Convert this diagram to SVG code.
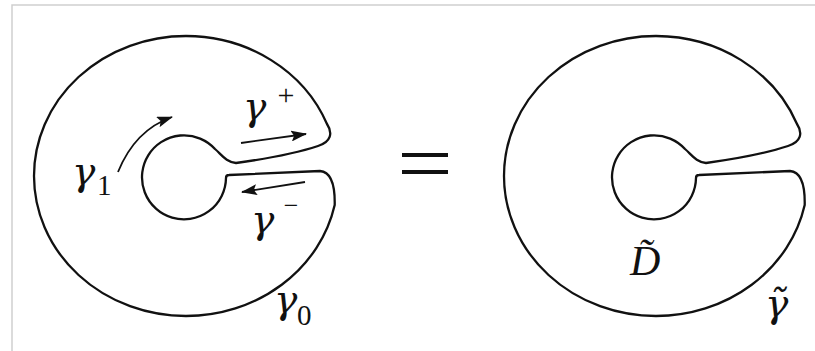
<svg xmlns="http://www.w3.org/2000/svg" width="815" height="351" viewBox="0 0 815 351">
<style>
.shape{fill:none;stroke:#111;stroke-width:2.3;stroke-linejoin:round}
.arr{fill:none;stroke:#111;stroke-width:1.8}
.g{font-family:"DejaVu Serif","Liberation Serif",serif;font-style:italic;fill:#111}
.m{font-family:"Liberation Serif","Times New Roman",serif;font-style:italic;fill:#111}
.r{font-family:"Liberation Serif","Times New Roman",serif;font-style:normal;fill:#111}
.frame{stroke:#cfcfcf;stroke-width:1.5;fill:none}
</style>
<defs>
<marker id="head" markerUnits="userSpaceOnUse" markerWidth="16" markerHeight="11" refX="15" refY="5.5" orient="auto">
<path d="M0,0 L16,5.5 L0,11 L3,5.5 Z" fill="#111"/>
</marker>
<path id="cshape" d="M 236,163 C 265,159 300,152 318,146 C 331,142 333,133 327,124 A 152 140 0 0 0 186,36 A 152 140 0 0 0 34,176 A 152 140 0 0 0 186,316 A 152 140 0 0 0 334.7,205 C 335,190 333,172 320,171 L 229,175 Q 226,175 226,178 A 42 42 0 1 1 215,149 C 222,155 226,162 236,163 Z"/>
</defs>
<rect width="815" height="351" fill="#fff"/>
<path class="frame" d="M12,351 L12,5 L815,5"/>

<g id="left-shape">
<use href="#cshape" class="shape"/>
</g>

<g id="right-shape">
<use href="#cshape" class="shape" transform="translate(470,0)"/>
</g>

<g id="equals">
<rect x="402" y="153" width="46" height="4" fill="#111"/>
<rect x="402" y="170" width="46" height="4" fill="#111"/>
</g>

<g id="connectors">
<path class="arr" d="M118,172 Q135,130 172,117" marker-end="url(#head)"/>
<path class="arr" d="M241,143 L306,134" marker-end="url(#head)"/>
<path class="arr" d="M305,182 L242,192" marker-end="url(#head)"/>
</g>

<g id="labels">
<text class="g" x="72" y="185" font-size="39">γ</text>
<text class="r" x="97" y="195" font-size="29">1</text>
<text class="g" x="243" y="120" font-size="39">γ</text>
<text class="r" x="286" y="105" font-size="30" text-anchor="middle">+</text>
<text class="g" x="251" y="233" font-size="39">γ</text>
<text class="r" x="291" y="214" font-size="26" text-anchor="middle">−</text>
<text class="g" x="274" y="313" font-size="39">γ</text>
<text class="r" x="297" y="325" font-size="29">0</text>
<text class="m" x="630" y="275" font-size="42">D̃</text>
<text class="g" x="765" y="317" font-size="39">γ̃</text>
</g>
</svg>
